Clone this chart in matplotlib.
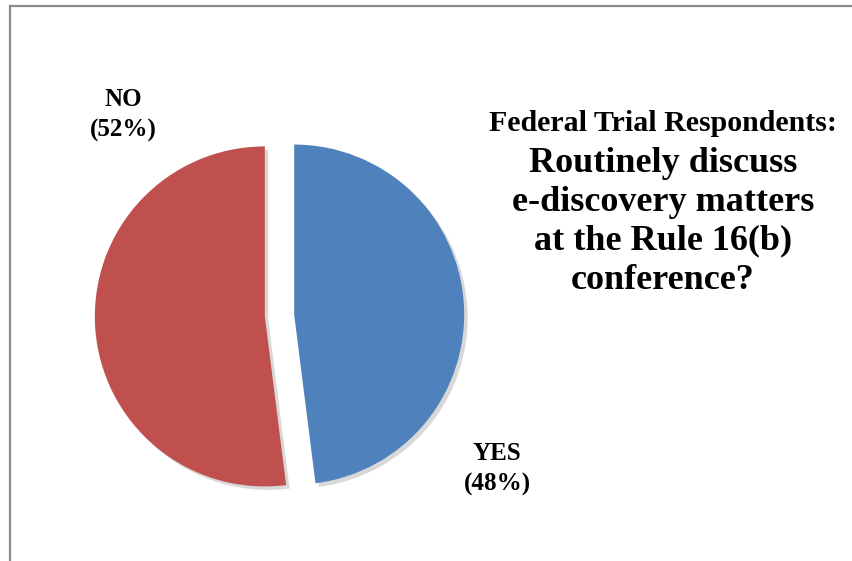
import matplotlib
matplotlib.use("Agg")
import matplotlib.pyplot as plt
from matplotlib.lines import Line2D

labels = ["YES", "NO"]
shares = [48, 52]
colors = ["#4F81BD", "#C0504D"]
title_top = "Federal Trial Respondents:"
title_main = ["Routinely discuss", "e-discovery matters", "at the Rule 16(b)", "conference?"]

W, H = 852, 561
fig = plt.figure(figsize=(W / 100, H / 100), dpi=100)
ax = fig.add_axes([0, 0, 1, 1])

# pie in pixel units, clockwise from the top; explode is in data units here
ax.pie(shares, colors=colors, startangle=90, counterclock=False,
       center=(279.5, H - 315.5), radius=170, explode=[14.7, 14.7],
       shadow={"ox": 2.5, "oy": -2.5, "facecolor": "#7f7f7f", "edgecolor": "none", "alpha": 0.3},
       wedgeprops={"linewidth": 0}, frame=True)
ax.set_xlim(0, W)
ax.set_ylim(0, H)
ax.set_aspect("equal")
ax.axis("off")

font = dict(family="Liberation Serif", weight="bold", color="black")
ax.text(123, H - 115, f"{labels[1]}\n({shares[1]}%)", ha="center", va="center",
        fontsize=18, linespacing=1.4, **font)
ax.text(497, H - 469, f"{labels[0]}\n({shares[0]}%)", ha="center", va="center",
        fontsize=18, linespacing=1.4, **font)

ax.text(663, H - 123, title_top, ha="center", va="center", fontsize=21.5, **font)
for i, line in enumerate(title_main):
    ax.text(663, H - 163 - 39 * i, line, ha="center", va="center", fontsize=26, **font)

# frame lines on the top and left
fig.add_artist(Line2D([10 / W, 1], [1 - 6 / H, 1 - 6 / H], color="#8c8c8c", lw=1.6))
fig.add_artist(Line2D([10 / W, 10 / W], [0, 1 - 6 / H], color="#8c8c8c", lw=1.6))

fig.savefig("out.png", dpi=100)
